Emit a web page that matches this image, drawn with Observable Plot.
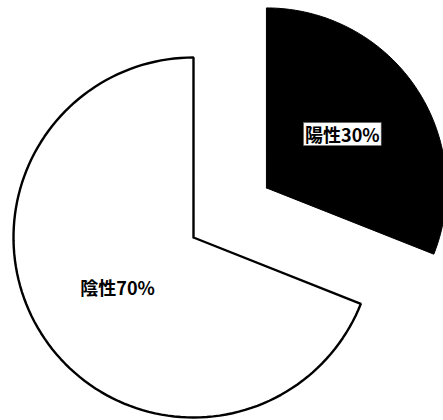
<!DOCTYPE html>
<html>
<head>
<meta charset="utf-8">
<script src="https://cdn.jsdelivr.net/npm/d3@7"></script>
<script src="https://cdn.jsdelivr.net/npm/@observablehq/plot@0.6"></script>
<style>
  html, body { margin: 0; padding: 0; background: #fff; }
  #chart { width: 443px; height: 420px; overflow: hidden; }
  svg { display: block; overflow: hidden; }
</style>
</head>
<body>
<div id="chart"></div>
<script>
// Data
const categories = ["陽性", "陰性"];
const shares = [31, 69];              // slice sizes as drawn
const labels = ["陽性30%", "陰性70%"];

// Layout (radius units; pie radius = 1)
const W = 443, H = 420, R = 180;
const cx = 193, cy = 237;
const explodeBy = [0.49, 0];
const fills = ["black", "white"];

const arcs = d3.pie().sort(null).value((d, i) => shares[i])(categories);

const polys = [];
const labelPts = [];
arcs.forEach((a, i) => {
  const mid = (a.startAngle + a.endAngle) / 2;
  const ox = explodeBy[i] * Math.sin(mid), oy = explodeBy[i] * Math.cos(mid);
  const pts = [{key: categories[i], x: ox, y: oy}];
  const n = 120;
  for (let k = 0; k <= n; k++) {
    const t = a.startAngle + (a.endAngle - a.startAngle) * k / n;
    pts.push({key: categories[i], x: ox + Math.sin(t), y: oy + Math.cos(t)});
  }
  pts.push({key: categories[i], x: ox, y: oy});
  polys.push(pts);
  labelPts.push({key: categories[i], label: labels[i], x: ox + 0.51 * Math.sin(mid), y: oy + 0.51 * Math.cos(mid)});
});

const plot = Plot.plot({
  width: W, height: H,
  margin: 0,
  x: {domain: [-cx / R, (W - cx) / R], axis: null},
  y: {domain: [-(H - cy) / R, cy / R], axis: null},
  marks: [
    Plot.line(polys[1], {x: "x", y: "y", fill: fills[1], stroke: "black", strokeWidth: 2.4, strokeLinejoin: "miter", curve: "linear"}),
    Plot.line(polys[0], {x: "x", y: "y", fill: fills[0], stroke: "black", strokeWidth: 1, strokeLinejoin: "miter", curve: "linear"}),
    Plot.text(labelPts, {x: "x", y: "y", text: "label", fill: "black",
      fontSize: 18, fontWeight: "bold", fontFamily: "'Noto Sans CJK JP', sans-serif"})
  ]
});
document.getElementById("chart").appendChild(plot);

// white box behind the label that sits on the black slice
plot.querySelectorAll("text").forEach(t => {
  if (t.textContent === labels[0]) {
    const b = t.getBBox();
    const rect = document.createElementNS("http://www.w3.org/2000/svg", "rect");
    rect.setAttribute("x", b.x - 1.5);
    rect.setAttribute("y", b.y + 1.5);
    rect.setAttribute("width", b.width + 3);
    rect.setAttribute("height", b.height - 3);
    rect.setAttribute("fill", "white");
    rect.setAttribute("stroke", "#666");
    rect.setAttribute("stroke-width", 0.6);
    for (const attr of ["transform", "x", "y"]) {
      if (t.hasAttribute(attr) && attr === "transform") rect.setAttribute(attr, t.getAttribute(attr));
    }
    if (t.hasAttribute("x") && !t.hasAttribute("transform")) {
      // bbox already in user coords
    }
    t.parentNode.insertBefore(rect, t);
  }
});
</script>
</body>
</html>
